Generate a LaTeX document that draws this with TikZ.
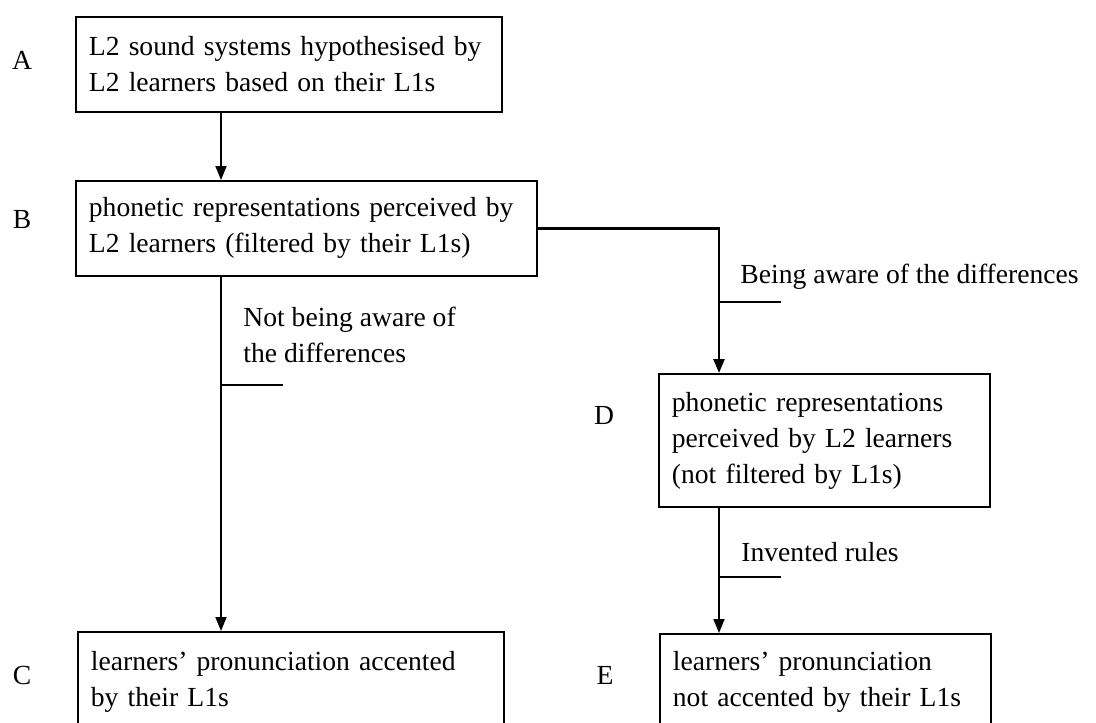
\documentclass[tikz,border=0pt]{standalone}
\usepackage{fontspec}
\setmainfont{Liberation Serif}
\usetikzlibrary{arrows.meta}
\begin{document}
\begin{tikzpicture}[x=0.5pt,y=-0.5pt,>={Triangle[length=7pt,width=5.5pt]},
    stage/.style={draw,line width=0.9pt,inner sep=6.5pt,align=left,anchor=north west,
      font=\fontsize{13.8}{18}\selectfont},
    tag/.style={font=\fontsize{13.8}{18}\selectfont},
    note/.style={anchor=west,align=left,inner sep=0pt,font=\fontsize{13.8}{18}\selectfont},
    flow/.style={line width=0.9pt,->},
    tick/.style={line width=0.7pt}]
  \useasboundingbox (0,0) rectangle (1096,722);
  \clip (0,0) rectangle (1096,722);
  % stages
  \node[stage,text width=200pt,minimum height=47.5pt] (A) at (75,16)
    {L2 sound systems hypothesised by\\L2 learners based on their L1s};
  \node[stage,text width=217.5pt,minimum height=47.5pt] (B) at (75,180)
    {phonetic representations perceived by\\L2 learners (filtered by their L1s)};
  \node[stage,text width=152.5pt,minimum height=66.5pt] (D) at (658,373)
    {phonetic representations\\perceived by L2 learners\\(not filtered by L1s)};
  \node[stage,text width=200pt,minimum height=50pt] (C) at (77,631)
    {learners’ pronunciation accented\\by their L1s};
  \node[stage,text width=152.5pt,minimum height=47.5pt] (E) at (659,633)
    {learners’ pronunciation\\not accented by their L1s};
  % letters
  \node[tag] (tA) at (22,60) {A};
  \node[tag] (tB) at (22,220) {B};
  \node[tag] (tC) at (22,675) {C};
  \node[tag] (tD) at (604,415) {D};
  \node[tag] (tE) at (605,675) {E};
  % connectors
  \coordinate (left) at (221,0);
  \coordinate (right) at (719,0);
  \draw[flow] (A.south -| left) -- (B.north -| left);
  \draw[flow] (B.south -| left) -- (C.north -| left);
  \draw[flow,line width=1.3pt] (B.east) -| (D.north -| right);
  \draw[flow] (D.south -| right) -- (E.north -| right);
  % conditions
  \coordinate (t1) at (221,385);
  \coordinate (t2) at (719,302);
  \coordinate (t3) at (719,577);
  \foreach \t in {t1,t2,t3}
    \draw[tick] (\t) -- ++(62,0);
  \node[note] (n1) at (243,335) {Not being aware of\\the differences};
  \node[note] (n2) at (740,277) {Being aware of the differences};
  \node[note] (n3) at (741,552) {Invented rules};
\end{tikzpicture}
\end{document}
